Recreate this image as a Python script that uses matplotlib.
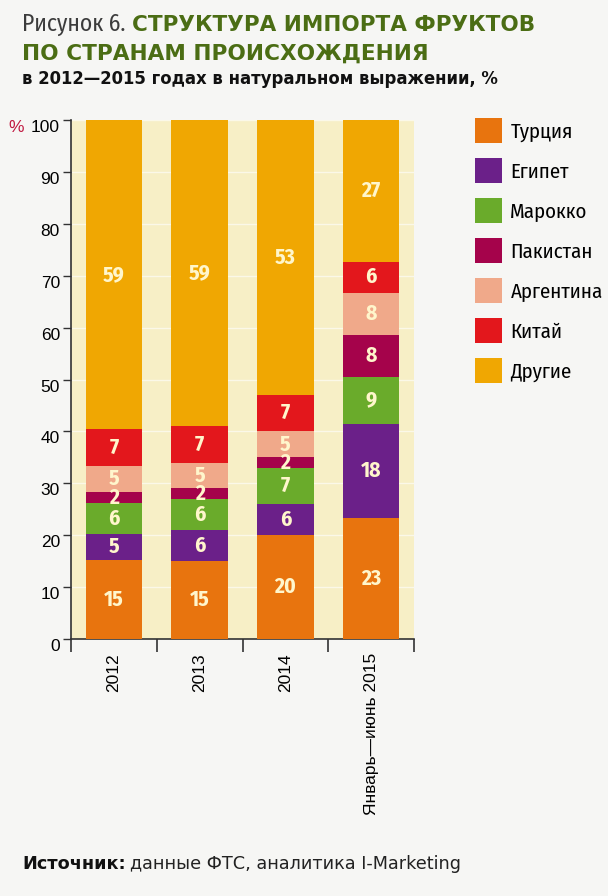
import matplotlib
matplotlib.use("Agg")
import matplotlib.pyplot as plt
import numpy as np
from matplotlib import font_manager

# data (shares, %)
periods = ["2012", "2013", "2014", "Январь—июнь 2015"]
countries = ["Турция", "Египет", "Марокко", "Пакистан", "Аргентина", "Китай", "Другие"]
turkey = [15, 15, 20, 23]
egypt = [5, 6, 6, 18]
morocco = [6, 6, 7, 9]
pakistan = [2, 2, 2, 8]
argentina = [5, 5, 5, 8]
china = [7, 7, 7, 6]
others = [59, 59, 53, 27]
yticks = [0, 10, 20, 30, 40, 50, 60, 70, 80, 90, 100]

colors = ["#e8740e", "#6b2089", "#6aab2b", "#a5034b", "#f0a98a", "#e3171c", "#f0a702"]


def pick(cands):
    names = {f.name for f in font_manager.fontManager.ttflist}
    for c in cands:
        if c in names:
            return c
    return "DejaVu Sans"


COND = pick(["Fira Sans Condensed", "Roboto Condensed", "Barlow Condensed"])
REG = pick(["Liberation Sans", "Arimo", "Arial"])
WIDE = "DejaVu Sans"

fig = plt.figure(figsize=(6.08, 8.96), dpi=100)
fig.patch.set_facecolor("#f6f6f4")
ax = fig.add_axes([71 / 608, 1 - 639 / 896, (414 - 71) / 608, (639 - 120) / 896])
ax.set_facecolor("#f7efc6")

# stack, scaled so every bar is a full 100 %
shares = np.array([turkey, egypt, morocco, pakistan, argentina, china, others], dtype=float)
heights = shares / shares.sum(axis=0) * 100
x = np.arange(len(periods))
bottom = np.zeros(len(periods))
for i, name in enumerate(countries):
    ax.bar(x, heights[i], bottom=bottom, width=0.66, color=colors[i],
           edgecolor="none", label=name, zorder=3)
    for j in range(len(periods)):
        ax.text(x[j], bottom[j] + heights[i][j] / 2, str(int(shares[i][j])),
                ha="center", va="center", color="#fff6cc", fontsize=15.5,
                fontweight="bold", family=COND, zorder=4)
    bottom += heights[i]

ax.set_xlim(-0.5, len(periods) - 0.5)
ax.set_ylim(0, 100)
ax.yaxis.grid(True, color="white", lw=1, alpha=0.6)
ax.set_axisbelow(True)
for s in ["top", "right"]:
    ax.spines[s].set_visible(False)
for s in ["left", "bottom"]:
    ax.spines[s].set_color("#333333")
    ax.spines[s].set_linewidth(1.2)

ax.set_yticks(yticks)
ax.set_yticklabels([str(v) for v in yticks], family=REG, fontsize=12.5, va="top")
ax.tick_params(axis="y", direction="out", length=6, width=1, color="#333333", pad=2)

ax.set_xticks(x)
ax.set_xticklabels(periods, rotation=90, va="top", ha="center", family=REG, fontsize=12.5)
ax.set_xticks(np.arange(-0.5, len(periods)), minor=True)
ax.tick_params(axis="x", which="major", length=0, pad=10)
ax.tick_params(axis="x", which="minor", direction="out", length=9, width=1.2, color="#333333")

fig.text(8 / 608, 1 - 127 / 896, "%", color="#c0173f", fontsize=12.5, family=REG,
         ha="left", va="center")

# legend
handles, labels = ax.get_legend_handles_labels()
fig.legend(handles, labels, loc="upper left", bbox_to_anchor=(475 / 608, 1 - 118 / 896),
           frameon=False, prop={"family": COND, "size": 15}, handlelength=1.3,
           handleheight=1.5, handletextpad=0.4, labelspacing=0.70, borderpad=0,
           borderaxespad=0)

# titles
fig.canvas.draw()
r = fig.canvas.get_renderer()
t1 = fig.text(22 / 608, 1 - 31 / 896, "Рисунок 6.", color="#3c3c3c", fontsize=17,
              family=COND, fontweight="normal", ha="left", va="baseline")
bb = t1.get_window_extent(r)
fig.text((bb.x1 + 7) / 608, 1 - 31 / 896, "СТРУКТУРА ИМПОРТА ФРУКТОВ", color="#4b6d14",
         fontsize=15.5, fontweight="bold", family=WIDE, ha="left", va="baseline")
fig.text(22 / 608, 1 - 60 / 896, "ПО СТРАНАМ ПРОИСХОЖДЕНИЯ", color="#4b6d14",
         fontsize=15.6, fontweight="bold", family=WIDE, ha="left", va="baseline")
fig.text(22 / 608, 1 - 84 / 896, "в 2012—2015 годах в натуральном выражении, %",
         color="#111111", fontsize=11.9, fontweight="bold", family=WIDE, ha="left",
         va="baseline")

s1 = fig.text(22 / 608, 1 - 869 / 896, "Источник:", color="#111111", fontsize=12.7,
              fontweight="bold", family=WIDE, ha="left", va="baseline")
bb = s1.get_window_extent(r)
fig.text((bb.x1 + 4) / 608, 1 - 869 / 896, "данные ФТС, аналитика I-Marketing",
         color="#222222", fontsize=12.7, family=WIDE, ha="left", va="baseline")

fig.savefig("out.png", dpi=100, facecolor=fig.get_facecolor())
